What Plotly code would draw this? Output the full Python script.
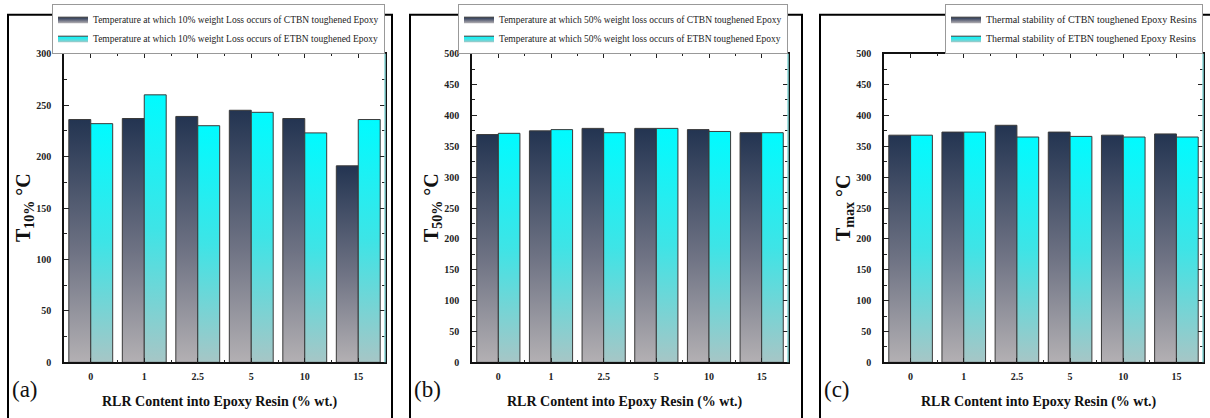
import plotly.graph_objects as go

# ---------------- data ----------------
categories = ["0", "1", "2.5", "5", "10", "15"]

t10_ctbn = [236, 237, 239, 245, 237, 191]
t10_etbn = [232, 260, 230, 243, 223, 236]

t50_ctbn = [369, 375, 379, 379, 377, 372]
t50_etbn = [371, 377, 372, 379, 374, 372]

tmax_ctbn = [368, 373, 384, 373, 368, 370]
tmax_etbn = [368, 373, 365, 366, 365, 365]

legend_a = ["Temperature at which 10% weight Loss occurs of CTBN toughened Epoxy",
            "Temperature at which 10% weight Loss occurs of ETBN toughened Epoxy"]
legend_b = ["Temperature at which 50% weight loss occurs of CTBN toughened Epoxy",
            "Temperature at which 50% weight loss occurs of ETBN toughened Epoxy"]
legend_c = ["Thermal stability of CTBN toughened Epoxy Resins",
            "Thermal stability of ETBN toughened Epoxy Resins"]

y_titles = ["<b>T<sub>10%</sub> °C</b>",
            "<b>T<sub>50%</sub> °C</b>",
            "<b>T<sub>max</sub> °C</b>"]
panel_labels = ["(a)", "(b)", "(c)"]
y_max = [300, 500, 500]
x_title = "RLR Content into Epoxy Resin (% wt.)"

# ---------------- style ----------------
W, H = 1210, 418
SERIF = "Liberation Serif, Times New Roman, serif"
BAR_W = 0.41
DARK_SCALE = [[0, "#b3b0b3"], [0.45, "#6f7384"], [1, "#233451"]]
CYAN_SCALE = [[0, "#a6c6c6"], [0.5, "#3ee4e6"], [1, "#00fbff"]]
EDGE = "#3a3a3a"
LEGEND_SIZE = [9.5, 9.5, 10]

plot_px = [(64, 385), (472, 788), (884, 1203)]
frame_px = [(8, 392), (410, 802), (820, 1214)]
y_dom = [1 - 367 / H, 1 - 50 / H]

panels = [
    (t10_ctbn, t10_etbn, legend_a),
    (t50_ctbn, t50_etbn, legend_b),
    (tmax_ctbn, tmax_etbn, legend_c),
]

fig = go.Figure()
shapes = []
annotations = []

for p, (ser1, ser2, leg) in enumerate(panels):
    n = "" if p == 0 else str(p + 1)
    xa, ya = "x" + n, "y" + n
    legname = "legend" + n
    for s, (vals, scale, name, off) in enumerate(
        [(ser1, DARK_SCALE, leg[0], -BAR_W), (ser2, CYAN_SCALE, leg[1], 0.0)]
    ):
        for i, v in enumerate(vals):
            x0 = i + off
            x1 = x0 + BAR_W
            fig.add_trace(go.Scatter(
                x=[x0, x0, x1, x1, x0], y=[0, v, v, 0, 0],
                mode="lines", fill="toself",
                line=dict(color=EDGE, width=1),
                fillgradient=dict(type="vertical", colorscale=scale),
                name=name, legendgroup=f"{p}-{s}", showlegend=(i == 0),
                legend=legname, xaxis=xa, yaxis=ya,
                hovertemplate=f"{categories[i]}: {v}<extra></extra>",
            ))

    dx0, dx1 = plot_px[p][0] / W, plot_px[p][1] / W
    axis_common = dict(
        showline=True, linecolor="#111", linewidth=1.5, mirror="ticks",
        ticks="inside", ticklen=5, tickcolor="#222", showgrid=False, zeroline=False,
        tickfont=dict(family=SERIF, size=10, color="#222", weight="bold"),
    )
    fig.update_layout({
        "xaxis" + n: dict(
            domain=[dx0, dx1], range=[-0.5, 5.5], anchor=ya,
            tickmode="array", tickvals=list(range(len(categories))), ticktext=categories,
            minor=dict(tickmode="array", tickvals=[k + 0.5 for k in range(len(categories) - 1)],
                       ticks="inside", ticklen=3, tickcolor="#222"),
            ticklabelstandoff=4,
            **axis_common,
        ),
        "yaxis" + n: dict(
            domain=y_dom, range=[0, y_max[p]], anchor=xa, dtick=50,
            minor=dict(dtick=25, ticks="inside", ticklen=3, tickcolor="#222"),
            ticklabelstandoff=9,
            **axis_common,
        ),
        legname: dict(
            x=dx1, xanchor="right", y=y_dom[1], yanchor="bottom",
            bgcolor="white", bordercolor="#999", borderwidth=1,
            font=dict(family=SERIF, size=LEGEND_SIZE[p], color="#222"),
            tracegroupgap=0, itemwidth=30,
        ),
    })

    # panel frame
    fx0, fx1 = frame_px[p]
    shapes.append(dict(type="rect", xref="paper", yref="paper",
                       x0=fx0 / W, x1=fx1 / W, y0=-0.05, y1=1 - 10 / H,
                       line=dict(color="black", width=2), layer="above"))
    # light cyan right spine
    shapes.append(dict(type="line", xref=xa + " domain", yref=ya + " domain",
                       x0=1, x1=1, y0=0, y1=1,
                       line=dict(color="#8ad8d8", width=1.5), layer="above"))

    annotations.append(dict(
        text=y_titles[p], textangle=-90, xref="paper", yref="paper",
        x=dx0, xshift=-40, y=(y_dom[0] + y_dom[1]) / 2, showarrow=False,
        xanchor="center", yanchor="middle",
        font=dict(family=SERIF, size=20, color="#111")))
    annotations.append(dict(
        text="<b>" + x_title + "</b>", xref="paper", yref="paper",
        x=(dx0 + dx1) / 2 - 5 / W, y=1 - 408 / H, showarrow=False,
        xanchor="center", yanchor="middle",
        font=dict(family=SERIF, size=14, color="#111")))
    annotations.append(dict(
        text=panel_labels[p], xref="paper", yref="paper",
        x=(fx0 + 17) / W, y=1 - 395 / H, showarrow=False,
        xanchor="center", yanchor="middle",
        font=dict(family=SERIF, size=23, color="#111")))

fig.update_layout(
    width=W, height=H, margin=dict(l=0, r=0, t=0, b=0),
    paper_bgcolor="white", plot_bgcolor="white",
    shapes=shapes, annotations=annotations,
    font=dict(family=SERIF),
)

fig.write_html("out.html")
